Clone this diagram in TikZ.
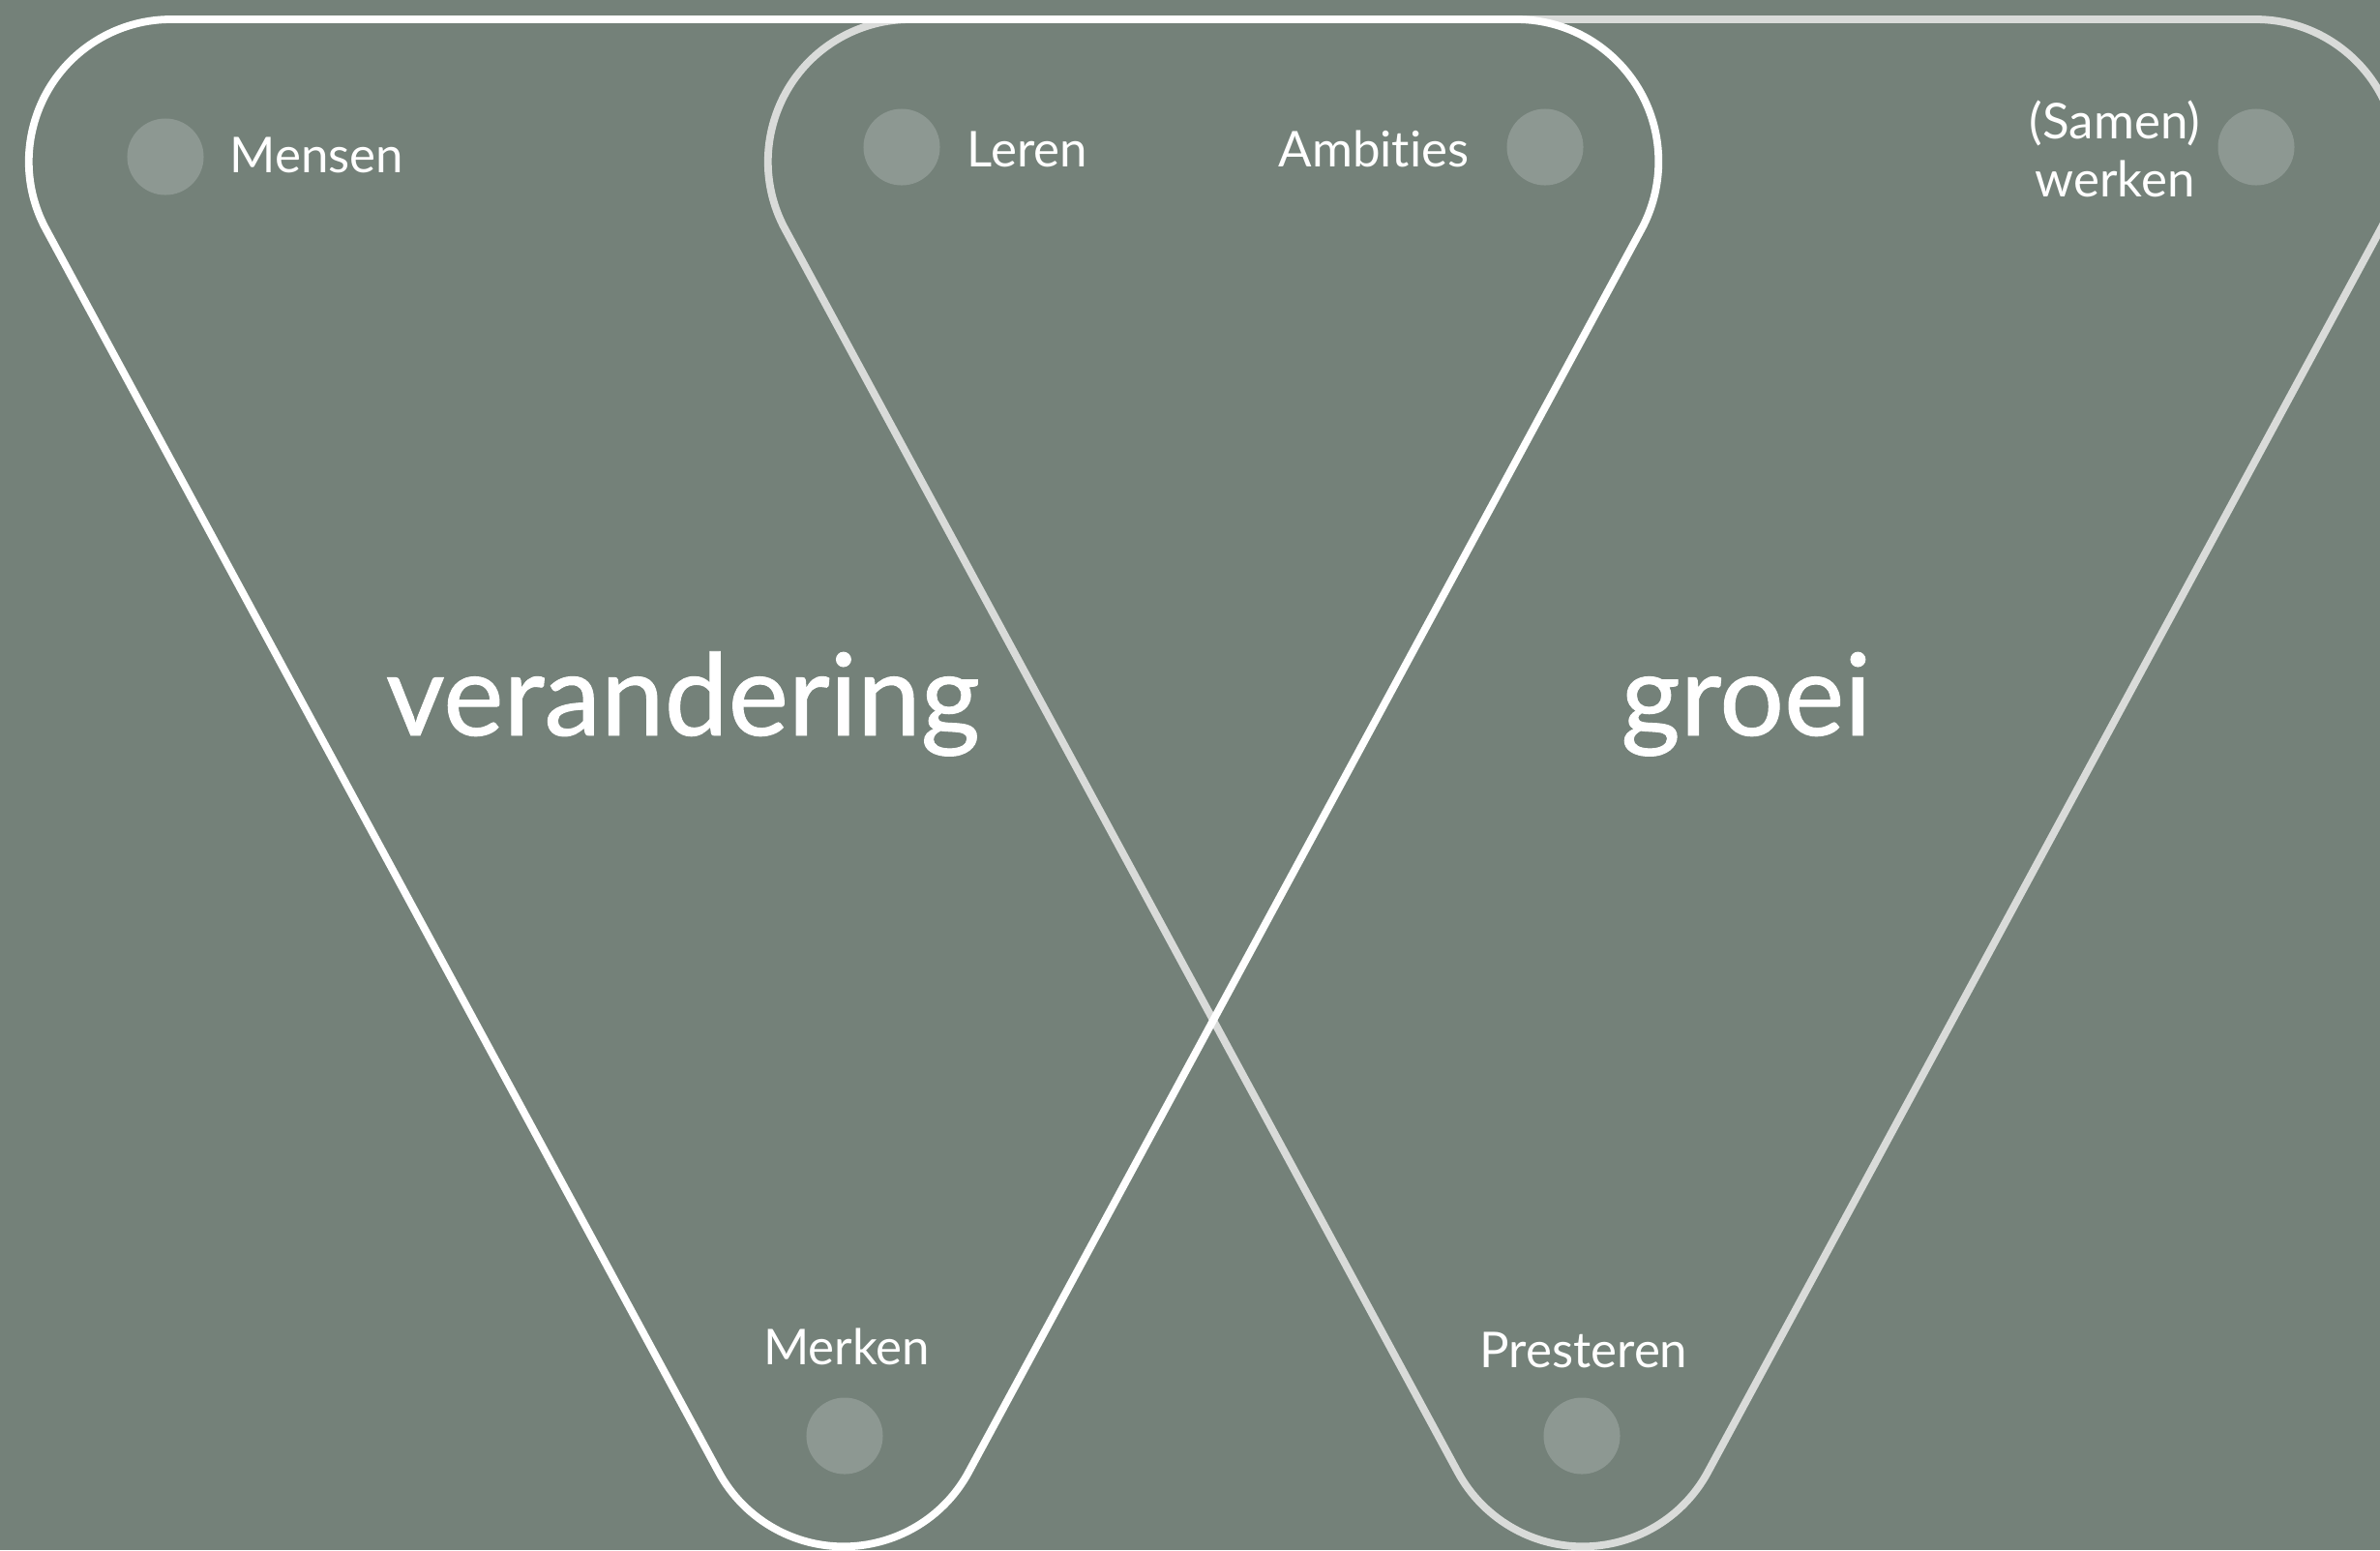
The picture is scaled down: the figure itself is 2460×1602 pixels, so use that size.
\documentclass[tikz,border=0pt]{standalone}
\usepackage{fontspec}
\setmainfont{Lato}[Ligatures=NoCommon]
\newfontfamily\bigfont{Lato}[Ligatures=NoCommon, FakeBold=0.8]
\definecolor{bg}{HTML}{748179}
\definecolor{dotcol}{HTML}{8D9892}
\definecolor{lightline}{HTML}{D9DBD9}
\tikzset{
  rtri/.pic={
    \draw[pic actions] (47.5,236.9) arc[start angle=151.6,end angle=270,radius=147]
      -- (1567.3,20) arc[start angle=270,end angle=388.4,radius=147]
      -- (1001.3,1521.2) arc[start angle=28.4,end angle=151.6,radius=147]
      -- cycle;
  },
  outline/.style={line width=0.078cm, line join=round},
  dotnode/.style={circle, fill=dotcol, inner sep=0, minimum size=0.79cm},
  lbl/.style={text=white, inner sep=0, font=\fontsize{14.5}{17}\selectfont},
  big/.style={text=white, inner sep=0, font=\bigfont\fontsize{33.5}{40}\selectfont},
}
\begin{document}
\begin{tikzpicture}[x=0.01cm, y=-0.01cm]
\useasboundingbox (0,0) rectangle (2460,1602);
\fill[bg] (0,0) rectangle (2460,1602);
\begin{scope}
\clip (0,0) rectangle (2460,1602);
\pic[outline, draw=lightline] at (764,0) {rtri};
\pic[outline, draw=white] at (0,0) {rtri};
\end{scope}
% dots
\node[dotnode] (dMensen) at (171,162) {};
\node[dotnode] (dLeren) at (932,152) {};
\node[dotnode] (dAmbities) at (1597,152) {};
\node[dotnode] (dSamen) at (2332,152) {};
\node[dotnode] (dMerken) at (873,1484) {};
\node[dotnode] (dPresteren) at (1635,1484) {};
% labels
\node[lbl, anchor=base west] (mensen) at (237,178) {Mensen};
\node[lbl, anchor=base west] (leren) at (999,172) {Leren};
\node[lbl, anchor=base east] (ambities) at (1519,172) {Ambities};
\node[lbl, anchor=base, align=center] (samen) at (2186,203) {(Samen)\\werken};
\node[lbl, anchor=base] (merken) at (875,1410) {Merken};
\node[lbl, anchor=base] (presteren) at (1637,1413) {Presteren};
\node[big, anchor=base] (verandering) at (706,760) {verandering};
\node[big, anchor=base] (groei) at (1805,760) {groei};
\end{tikzpicture}
\end{document}
